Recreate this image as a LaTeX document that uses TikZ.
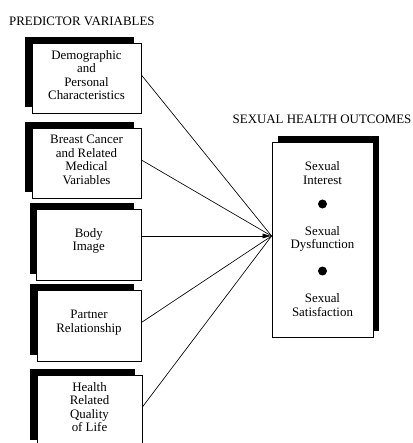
\documentclass[tikz,border=0pt]{standalone}
\usepackage{fontspec}
\setmainfont{Liberation Serif}
\usetikzlibrary{arrows.meta,calc,shadows}
\begin{document}
\begin{tikzpicture}[x=1pt,y=-1pt,
 every node/.style={font=\fontsize{12.9}{13.6}\selectfont},
 lbox/.style={draw=black,line width=0.8pt,fill=white,inner sep=0pt,
   general shadow={fill=black,shadow xshift=-7pt,shadow yshift=6pt}},
 rbox/.style={draw=black,line width=0.8pt,fill=white,inner sep=0pt,
   general shadow={fill=black,shadow xshift=6pt,shadow yshift=6pt}},
 txt/.style={align=center,inner sep=0pt},
 bullet/.style={circle,fill=black,inner sep=0pt,minimum size=9pt},
 link/.style={line width=0.65pt}]
\useasboundingbox (0,0) rectangle (412,443);

% titles
\node[anchor=west,inner sep=0pt] (tp) at (9,21) {PREDICTOR VARIABLES};
\node[anchor=west,inner sep=0pt] (ts) at (232.5,119) {SEXUAL HEALTH OUTCOMES};

% predictor boxes
\node[lbox,minimum width=109pt,minimum height=70pt] (b1) at (86.5,78) {};
\node[lbox,minimum width=109pt,minimum height=70pt] (b2) at (86.5,163) {};
\node[lbox,minimum width=104.5pt,minimum height=71pt] (b3) at (88.75,244.5) {};
\node[lbox,minimum width=104pt,minimum height=71pt] (b4) at (89,325.5) {};
\node[lbox,minimum width=105pt,minimum height=71pt] (b5) at (89.5,410.5) {};

\node[txt] (t1) at (86.5,75) {Demographic\\and\\Personal\\Characteristics};
\node[txt] (t2) at (86.5,160) {Breast Cancer\\and Related\\Medical\\Variables};
\node[txt] (t3) at (88.75,241) {Body\\Image};
\node[txt] (t4) at (89,322.5) {Partner\\Relationship};
\node[txt] (t5) at (89.5,407) {Health\\Related\\Quality\\of Life};

% outcome box
\node[rbox,minimum width=101pt,minimum height=195pt] (out) at (322.5,239.5) {};
\node[txt] (o1) at (322.5,173) {Sexual\\Interest};
\node[bullet] (d1) at (322.5,204) {};
\node[txt] (o2) at (322.5,239) {Sexual\\Dysfunction};
\node[bullet] (d2) at (322.5,271) {};
\node[txt] (o3) at (322.5,305) {Sexual\\Satisfaction};

% connectors
\coordinate (conv) at ($(out.west)+(0,-3.5)$);
\draw[link] (b1.east |- t1) -- (conv);
\draw[link] (b2.east |- t2) -- (conv);
\draw[link] (b4.east |- t4) -- (conv);
\draw[link] (b5.east |- t5) -- (conv);
\draw[link,-{Latex[length=9pt,width=5pt]}] (b3.east |- conv) -- (conv);
\end{tikzpicture}
\end{document}
